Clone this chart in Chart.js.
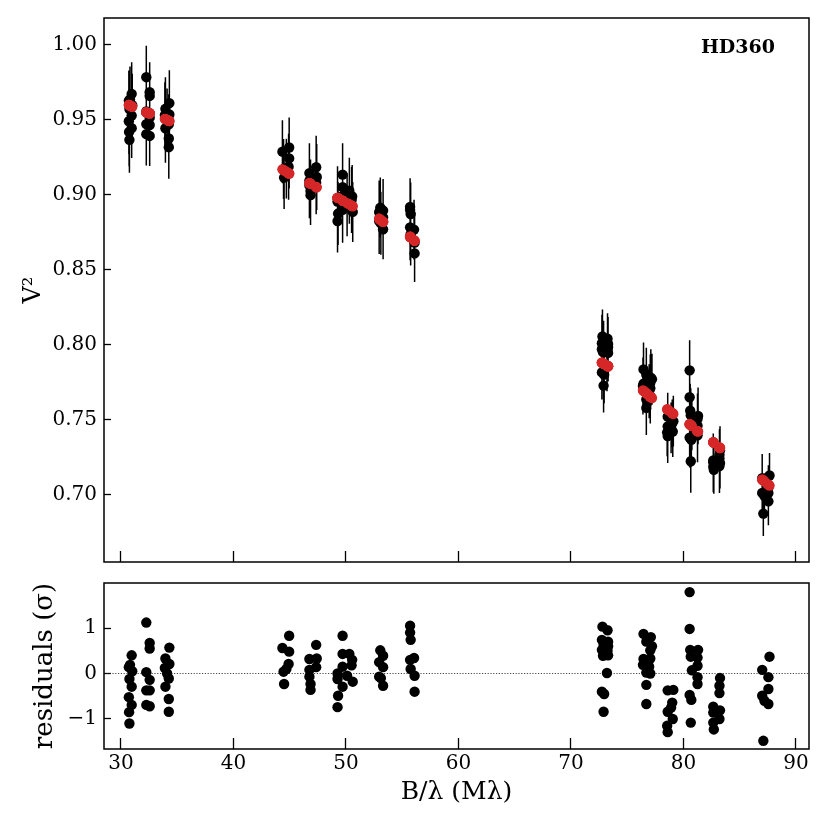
<!DOCTYPE html>
<html>
<head>
<meta charset="utf-8">
<script src="https://cdn.jsdelivr.net/npm/chart.js@4.4.1/dist/chart.umd.min.js"></script>
<style>
  html, body { margin: 0; padding: 0; background: #fff; }
  #wrap { position: relative; width: 830px; height: 830px; }
  canvas { position: absolute; left: 0; }
  #top { top: 0; }
  #bottom { top: 570px; }
</style>
</head>
<body>
<div id="wrap">
  <canvas id="top" width="830" height="570"></canvas>
  <canvas id="bottom" width="830" height="260"></canvas>
</div>
<script>
// one entry per measurement, grouped by baseline (one line per group)
const baseline = [
  30.95, 30.80, 30.70, 30.75, 30.95, 30.70, 30.95, 30.72, 30.75, 31.00,
  32.25, 32.55, 32.55, 32.25, 32.55, 32.25, 32.55, 32.25, 32.55,
  34.30, 33.95, 34.30, 33.90, 34.10, 34.25, 33.95, 34.25, 34.25,
  44.95, 44.35, 44.95, 44.90, 44.45, 44.50, 44.70,
  47.35, 46.75, 47.40, 47.35, 46.75, 46.75, 46.85, 46.85,
  49.70, 49.70, 50.30, 50.55, 49.70, 50.50, 49.25, 49.25, 50.10, 49.70, 50.60, 49.30, 49.25,
  53.05, 53.30, 52.95, 53.30, 52.95, 53.30, 53.10,
  55.70, 55.70, 55.75, 56.05, 55.70, 55.75, 56.10, 56.10,
  72.80, 73.25, 72.75, 73.30, 72.90, 73.30, 72.75, 73.25, 72.85, 73.30, 73.20, 72.75, 72.95, 72.90,
  76.45, 77.10, 76.70, 77.20, 77.05, 76.45, 77.05, 76.40, 76.95, 76.70, 77.05, 76.70, 76.70,
  78.60, 79.10, 79.00, 78.60, 79.05, 78.55, 78.60, 78.90,
  80.55, 80.55, 80.60, 81.30, 80.65, 81.25, 81.25, 80.75, 81.25, 81.25, 80.55, 80.70, 80.65,
  83.25, 83.20, 83.20, 82.65, 83.25, 82.65, 83.20, 82.65, 82.70,
  87.65, 87.00, 87.55, 87.55, 87.00, 87.20, 87.55, 87.10
];
const vis2 = [
  0.9674, 0.9636, 0.9629, 0.9573, 0.9529, 0.9491, 0.9445, 0.9420, 0.9367, 0.9598,
  0.9785, 0.9685, 0.9660, 0.9556, 0.9515, 0.9472, 0.9466, 0.9405, 0.9393,
  0.9612, 0.9574, 0.9536, 0.9532, 0.9500, 0.9471, 0.9444, 0.9376, 0.9318,
  0.9316, 0.9288, 0.9243, 0.9188, 0.9173, 0.9115, 0.9175,
  0.9184, 0.9145, 0.9119, 0.9081, 0.9095, 0.9063, 0.9026, 0.8998,
  0.9135, 0.9051, 0.9027, 0.8989, 0.8993, 0.8966, 0.8980, 0.8955, 0.8934, 0.8900, 0.8886, 0.8875, 0.8825,
  0.8915, 0.8895, 0.8885, 0.8849, 0.8825, 0.8770, 0.8810,
  0.8920, 0.8900, 0.8872, 0.8768, 0.8783, 0.8738, 0.8682, 0.8609,
  0.8055, 0.8040, 0.8010, 0.8005, 0.7990, 0.7985, 0.7970, 0.7965, 0.7950, 0.7945, 0.7860, 0.7815, 0.7800, 0.7727,
  0.7835, 0.7780, 0.7800, 0.7770, 0.7745, 0.7740, 0.7710, 0.7725, 0.7690, 0.7685, 0.7655, 0.7635, 0.7578,
  0.7520, 0.7490, 0.7475, 0.7455, 0.7420, 0.7415, 0.7390, 0.7445,
  0.7829, 0.7649, 0.7560, 0.7525, 0.7530, 0.7505, 0.7460, 0.7475, 0.7425, 0.7395, 0.7380, 0.7365, 0.7222,
  0.7295, 0.7265, 0.7240, 0.7228, 0.7210, 0.7215, 0.7190, 0.7185, 0.7165,
  0.7127, 0.7110, 0.7045, 0.7010, 0.7011, 0.6990, 0.6955, 0.6873
];
const vis2Err = [
  0.021, 0.022, 0.020, 0.023, 0.021, 0.022, 0.020, 0.023, 0.022, 0.021,
  0.021, 0.020, 0.022, 0.021, 0.023, 0.020, 0.022, 0.021, 0.020,
  0.022, 0.021, 0.020, 0.022, 0.021, 0.020, 0.023, 0.021, 0.021,
  0.020, 0.021, 0.020, 0.022, 0.020, 0.021, 0.020,
  0.021, 0.020, 0.022, 0.021, 0.020, 0.022, 0.021, 0.020,
  0.021, 0.020, 0.022, 0.021, 0.020, 0.022, 0.021, 0.020, 0.021, 0.022, 0.020, 0.021, 0.021,
  0.020, 0.021, 0.021, 0.020, 0.022, 0.020, 0.021,
  0.019, 0.020, 0.021, 0.020, 0.022, 0.021, 0.020, 0.019,
  0.018, 0.017, 0.019, 0.018, 0.017, 0.019, 0.018, 0.017, 0.018, 0.019, 0.017, 0.018, 0.019, 0.018,
  0.018, 0.019, 0.018, 0.017, 0.019, 0.018, 0.017, 0.019, 0.018, 0.017, 0.018, 0.019, 0.018,
  0.016, 0.017, 0.016, 0.018, 0.017, 0.016, 0.018, 0.017,
  0.020, 0.019, 0.018, 0.019, 0.018, 0.017, 0.019, 0.018, 0.019, 0.018, 0.020, 0.018, 0.021,
  0.016, 0.017, 0.016, 0.018, 0.017, 0.016, 0.018, 0.017, 0.016,
  0.015, 0.016, 0.015, 0.017, 0.016, 0.015, 0.016, 0.015
];
const vis2Model = [
  0.9590, 0.9596, 0.9600, 0.9598, 0.9590, 0.9600, 0.9590, 0.9599, 0.9598, 0.9588,
  0.9550, 0.9544, 0.9544, 0.9550, 0.9544, 0.9550, 0.9544, 0.9550, 0.9544,
  0.9492, 0.9505, 0.9492, 0.9507, 0.9500, 0.9494, 0.9505, 0.9494, 0.9494,
  0.9142, 0.9170, 0.9142, 0.9144, 0.9165, 0.9163, 0.9154,
  0.9052, 0.9078, 0.9050, 0.9052, 0.9078, 0.9078, 0.9074, 0.9074,
  0.8961, 0.8961, 0.8937, 0.8926, 0.8961, 0.8928, 0.8980, 0.8980, 0.8945, 0.8961, 0.8924, 0.8978, 0.8980,
  0.8834, 0.8820, 0.8840, 0.8820, 0.8840, 0.8820, 0.8831,
  0.8720, 0.8720, 0.8717, 0.8697, 0.8720, 0.8717, 0.8693, 0.8693,
  0.7877, 0.7858, 0.7880, 0.7856, 0.7873, 0.7856, 0.7880, 0.7858, 0.7875, 0.7856, 0.7861, 0.7880, 0.7871, 0.7873,
  0.7692, 0.7650, 0.7676, 0.7644, 0.7653, 0.7692, 0.7653, 0.7695, 0.7660, 0.7676, 0.7653, 0.7676, 0.7676,
  0.7567, 0.7538, 0.7544, 0.7567, 0.7541, 0.7570, 0.7567, 0.7550,
  0.7470, 0.7470, 0.7467, 0.7420, 0.7463, 0.7423, 0.7423, 0.7457, 0.7423, 0.7423, 0.7470, 0.7460, 0.7463,
  0.7311, 0.7314, 0.7314, 0.7349, 0.7311, 0.7349, 0.7314, 0.7349, 0.7346,
  0.7060, 0.7100, 0.7066, 0.7066, 0.7100, 0.7088, 0.7066, 0.7094
];
const residual = [
  0.40, 0.19, 0.14, -0.12, -0.29, -0.52, -0.69, -0.85, -1.10, 0.05,
  1.12, 0.67, 0.55, 0.03, -0.14, -0.37, -0.37, -0.69, -0.72,
  0.57, 0.33, 0.21, 0.12, 0.00, -0.11, -0.29, -0.56, -0.84,
  0.83, 0.56, 0.48, 0.21, 0.04, -0.23, 0.10,
  0.63, 0.32, 0.33, 0.14, 0.08, -0.07, -0.23, -0.36,
  0.83, 0.43, 0.43, 0.30, 0.15, 0.18, 0.00, -0.12, -0.05, -0.29, -0.18, -0.49, -0.74,
  0.51, 0.39, 0.25, 0.14, -0.07, -0.27, -0.10,
  1.05, 0.90, 0.74, 0.34, 0.30, 0.10, -0.05, -0.40,
  1.03, 0.95, 0.74, 0.70, 0.63, 0.60, 0.52, 0.50, 0.39, 0.40, 0.01, -0.40, -0.45, -0.84,
  0.87, 0.80, 0.70, 0.60, 0.51, 0.32, 0.33, 0.19, 0.15, 0.02, 0.00, -0.25, -0.67,
  -0.37, -0.36, -0.64, -0.84, -1.00, -1.15, -1.29, -0.75,
  1.79, 0.98, 0.52, 0.52, 0.37, 0.35, 0.17, 0.07, -0.08, -0.23, -0.47, -0.58, -1.08,
  -0.10, -0.27, -0.43, -0.73, -0.81, -0.86, -1.00, -1.08, -1.23,
  0.37, 0.08, -0.08, -0.34, -0.49, -0.60, -0.67, -1.48
];

const starName = 'HD360';
const xLimits = [28.49, 91.16];
const vis2Limits = [0.655, 1.018];
const residLimits = [-1.66, 1.99];
const xTicks = [30, 40, 50, 60, 70, 80, 90];
const vis2Ticks = [0.70, 0.75, 0.80, 0.85, 0.90, 0.95, 1.00];
const residTicks = [-1, 0, 1];

Chart.defaults.font.family = "'DejaVu Serif', serif";
Chart.defaults.color = '#000';

const RED = '#d62728';

// fixed box sizes so both panels line up
function fixBox(size, horizontal) {
  return function(s) {
    if (horizontal) s.height = size; else s.width = size;
    s.paddingTop = 0; s.paddingBottom = 0; s.paddingLeft = 0; s.paddingRight = 0;
  };
}
function setTicks(list) {
  return function(s) { s.ticks = list.map(v => ({ value: v })); };
}

const errorBars = {
  id: 'errorBars',
  beforeDatasetsDraw(chart) {
    const { ctx, scales: { x, y } } = chart;
    ctx.save();
    ctx.strokeStyle = '#000';
    ctx.lineWidth = 1.5;
    ctx.beginPath();
    baseline.forEach((b, i) => {
      const px = x.getPixelForValue(b);
      ctx.moveTo(px, y.getPixelForValue(vis2[i] - vis2Err[i]));
      ctx.lineTo(px, y.getPixelForValue(vis2[i] + vis2Err[i]));
    });
    ctx.stroke();
    ctx.restore();
  }
};

const frame = {
  id: 'frame',
  afterDraw(chart) {
    const { ctx, chartArea: a } = chart;
    ctx.save();
    ctx.strokeStyle = '#000';
    ctx.lineWidth = 1.5;
    ctx.strokeRect(a.left, a.top, a.right - a.left, a.bottom - a.top);
    ctx.restore();
  }
};

const starLabel = {
  id: 'starLabel',
  afterDatasetsDraw(chart) {
    const { ctx, chartArea: a } = chart;
    ctx.save();
    ctx.font = "bold 19px 'DejaVu Serif'";
    ctx.fillStyle = '#000';
    ctx.textAlign = 'right';
    ctx.textBaseline = 'alphabetic';
    ctx.fillText(starName, a.right - 34, a.top + 35);
    ctx.restore();
  }
};

const tickGrid = (len) => ({
  drawOnChartArea: false, drawTicks: true, tickLength: len, tickWidth: 1.3, tickColor: '#000'
});

// top panel: V^2 with model
new Chart(document.getElementById('top'), {
  type: 'scatter',
  data: {
    datasets: [
      {
        label: 'model',
        data: baseline.map((b, i) => ({ x: b, y: vis2Model[i] })),
        backgroundColor: RED, borderColor: RED, pointRadius: 5.2, borderWidth: 0,
        order: 0
      },
      {
        label: 'data',
        data: baseline.map((b, i) => ({ x: b, y: vis2[i] })),
        backgroundColor: '#000', borderColor: '#000', pointRadius: 5.2, borderWidth: 0,
        order: 1
      }
    ]
  },
  options: {
    responsive: false,
    animation: false,
    layout: { padding: { top: 18, right: 21, left: 0, bottom: 0 } },
    plugins: { legend: { display: false }, tooltip: { enabled: false } },
    scales: {
      x: {
        type: 'linear', min: xLimits[0], max: xLimits[1],
        afterBuildTicks: setTicks(xTicks),
        afterFit: fixBox(8, true),
        ticks: { display: false },
        grid: tickGrid(-11),
        border: { display: false }
      },
      y: {
        type: 'linear', min: vis2Limits[0], max: vis2Limits[1],
        afterBuildTicks: setTicks(vis2Ticks),
        afterFit: fixBox(104, false),
        ticks: { padding: 14, font: { size: 20 }, callback: v => v.toFixed(2) },
        grid: tickGrid(-7),
        border: { display: false },
        title: { display: true, text: 'V²', font: { size: 24 }, padding: { top: 19, bottom: 0 } }
      }
    }
  },
  plugins: [errorBars, frame, starLabel]
});

// bottom panel: residuals
new Chart(document.getElementById('bottom'), {
  type: 'scatter',
  data: {
    datasets: [
      {
        label: 'residuals',
        data: baseline.map((b, i) => ({ x: b, y: residual[i] })),
        backgroundColor: '#000', borderColor: '#000', pointRadius: 5.2, borderWidth: 0,
        order: 0
      },
      {
        label: 'zero',
        type: 'line',
        data: [{ x: xLimits[0], y: 0 }, { x: xLimits[1], y: 0 }],
        borderColor: '#333', borderWidth: 0.9, borderDash: [1.2, 1.6],
        pointRadius: 0, fill: false,
        order: 1
      }
    ]
  },
  options: {
    responsive: false,
    animation: false,
    layout: { padding: { top: 13, right: 21, left: 0, bottom: 0 } },
    plugins: { legend: { display: false }, tooltip: { enabled: false } },
    scales: {
      x: {
        type: 'linear', min: xLimits[0], max: xLimits[1],
        afterBuildTicks: setTicks(xTicks),
        afterFit: fixBox(81, true),
        ticks: { padding: 14, font: { size: 20 } },
        grid: tickGrid(-11),
        border: { display: false },
        title: { display: true, text: 'B/λ (Mλ)', font: { size: 25 }, padding: { top: 0, bottom: 23 } }
      },
      y: {
        type: 'linear', min: residLimits[0], max: residLimits[1],
        afterBuildTicks: setTicks(residTicks),
        afterFit: fixBox(104, false),
        ticks: { padding: 14, font: { size: 20 }, callback: v => (v < 0 ? '\u2212' + Math.abs(v) : String(v)) },
        grid: tickGrid(-7),
        border: { display: false },
        title: { display: true, text: 'residuals (σ)', font: { size: 26 }, padding: { top: 30, bottom: 0 } }
      }
    }
  },
  plugins: [frame]
});
</script>
</body>
</html>
